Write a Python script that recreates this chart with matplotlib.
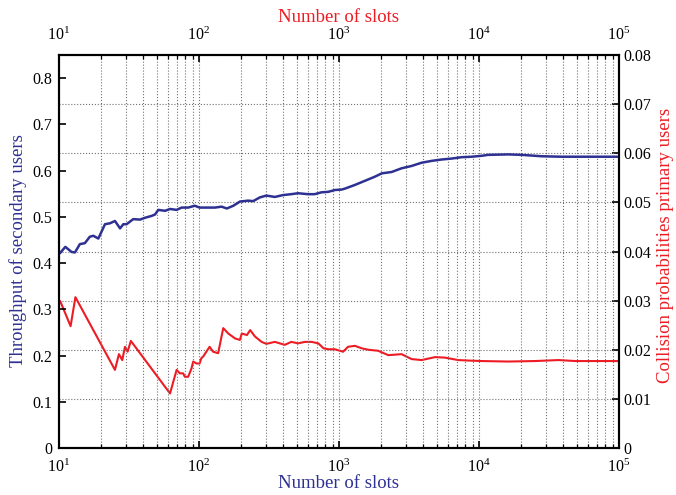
import numpy as np
import matplotlib.pyplot as plt
from matplotlib.ticker import LogLocator, FuncFormatter, NullFormatter, MultipleLocator

plt.rcParams['font.family'] = ['Liberation Serif', 'DejaVu Serif']
plt.rcParams['mathtext.fontset'] = 'custom'
plt.rcParams['mathtext.rm'] = 'Liberation Serif'
plt.rcParams['mathtext.it'] = 'Liberation Serif:italic'

# throughput of secondary users (left axis)
slots_thr = [10, 10.2, 11.1, 12.3, 13.0, 14.1, 15.3, 16.6, 17.6, 19.1,
             21.3, 23.1, 25.1, 27.3, 28.8, 30.4, 33.9, 37.9, 41.2, 45.9,
             48.5, 51.2, 57.2, 62.1, 69.2, 75.1, 83.7, 93.3, 101, 104,
             130, 145, 158, 176, 196, 224, 244, 272, 303, 348,
             398, 456, 510, 600, 670, 750, 837, 935, 1045, 1103,
             1300, 1535, 1810, 2020, 2380, 2800, 3300, 3890, 4590, 5420,
             6380, 7530, 8880, 10470, 11600, 16200, 20200, 28000, 39000, 57000,
             100000]
throughput = [0.420, 0.422, 0.435, 0.424, 0.423, 0.441, 0.443, 0.457, 0.459, 0.453,
              0.484, 0.486, 0.491, 0.475, 0.484, 0.484, 0.495, 0.494, 0.498, 0.502,
              0.505, 0.515, 0.513, 0.517, 0.515, 0.520, 0.520, 0.524, 0.520, 0.520,
              0.520, 0.522, 0.518, 0.524, 0.533, 0.535, 0.534, 0.542, 0.546, 0.543,
              0.547, 0.549, 0.551, 0.549, 0.549, 0.553, 0.554, 0.558, 0.559, 0.561,
              0.569, 0.578, 0.587, 0.594, 0.597, 0.605, 0.610, 0.617, 0.621, 0.624,
              0.626, 0.629, 0.630, 0.632, 0.634, 0.635, 0.634, 0.631, 0.630, 0.630,
              0.630]

# collision probability of primary users (right axis)
slots_col = [10, 10.2, 12.1, 13.1, 25.1, 26.8, 28.3, 29.6, 30.9, 32.6,
             62.1, 69.2, 73, 77, 79.2, 83.7, 88.4, 90.9, 96, 101,
             104, 107, 119, 126, 137, 149, 162, 181, 196, 202,
             220, 232, 251, 280, 303, 348, 410, 456, 510, 570,
             638, 712, 775, 840, 935, 1070, 1160, 1300, 1450, 1620,
             1900, 2250, 2800, 3300, 3890, 4860, 5710, 7100, 8400, 10470,
             16200, 25000, 37000, 49000, 100000]
collision = [0.0300, 0.0299, 0.0248, 0.0307, 0.0159, 0.0191, 0.0179, 0.0206, 0.0196, 0.0218,
             0.0111, 0.0159, 0.0152, 0.0152, 0.0145, 0.0145, 0.0162, 0.0176, 0.0172, 0.0172,
             0.0183, 0.0186, 0.0206, 0.0196, 0.0193, 0.0244, 0.0233, 0.0223, 0.0220, 0.0233,
             0.0230, 0.0240, 0.0227, 0.0216, 0.0212, 0.0216, 0.0210, 0.0216, 0.0213, 0.0216,
             0.0216, 0.0213, 0.0203, 0.0201, 0.0201, 0.0196, 0.0206, 0.0208, 0.0203, 0.0200,
             0.0198, 0.0189, 0.0191, 0.0181, 0.0179, 0.0185, 0.0184, 0.0179, 0.0178, 0.0177,
             0.0176, 0.0177, 0.0179, 0.0177, 0.0177]

blue = '#2e3192'
red = '#ed1c24'

fig = plt.figure(figsize=(6.76, 4.95), dpi=100)
ax1 = fig.add_axes([59/676, 1-448/495, 560/676, 393/495])
ax2 = ax1.twinx()
ax1.set_zorder(ax2.get_zorder() + 1)
ax1.patch.set_visible(False)

ax1.plot(slots_thr, throughput, color=blue, lw=1.8)
ax2.plot(slots_col, collision, color=red, lw=1.5)

ax1.set_xscale('log')
ax1.set_xlim(10, 1e5)
ax1.set_ylim(0, 0.85)
ax2.set_ylim(0, 0.08)
ax2.yaxis.set_major_locator(MultipleLocator(0.01))
ax1.set_yticks(np.arange(0, 0.81, 0.1))
fmt = FuncFormatter(lambda v, p: '%g' % round(v, 4))
ax1.yaxis.set_major_formatter(fmt)
ax2.yaxis.set_major_formatter(fmt)

ax1.xaxis.set_major_locator(LogLocator(base=10))
ax1.xaxis.set_minor_locator(LogLocator(base=10, subs=np.arange(2, 10)))
ax1.xaxis.set_minor_formatter(NullFormatter())
ax1.xaxis.set_major_formatter(FuncFormatter(lambda v, p: r'$\mathrm{10^{%d}}$' % round(np.log10(v))))

ax1.tick_params(axis='x', which='both', direction='in', top=True, labeltop=True,
                labelsize=11.5, pad=8)
ax1.tick_params(axis='x', which='major', length=5, width=1.2)
ax1.tick_params(axis='x', which='minor', length=3, width=0.9)
ax1.tick_params(axis='y', direction='in', length=5, width=1.2, labelsize=11.5, pad=5)
ax2.tick_params(axis='y', direction='in', length=5, width=1.2, labelsize=11.5, pad=3)

ax1.grid(True, axis='x', which='both', linestyle=':', color='0.45', lw=0.8)
ax2.grid(True, axis='y', linestyle=':', color='0.45', lw=0.8)

for ax in (ax1, ax2):
    for s in ax.spines.values():
        s.set_linewidth(1.5)

fig.text(339/676, 1-484/495, 'Number of slots', color=blue, fontsize=13.5,
         ha='center', va='center')
fig.text(339/676, 1-17/495, 'Number of slots', color=red, fontsize=13.5,
         ha='center', va='center')
fig.text(18/676, 1-251/495, 'Throughput of secondary users', color=blue, fontsize=13.5,
         ha='center', va='center', rotation=90)
fig.text(666/676, 1-245/495, 'Collision probabilities primary users', color=red, fontsize=13.5,
         ha='center', va='center', rotation=90)

fig.savefig('out.png', dpi=100)
